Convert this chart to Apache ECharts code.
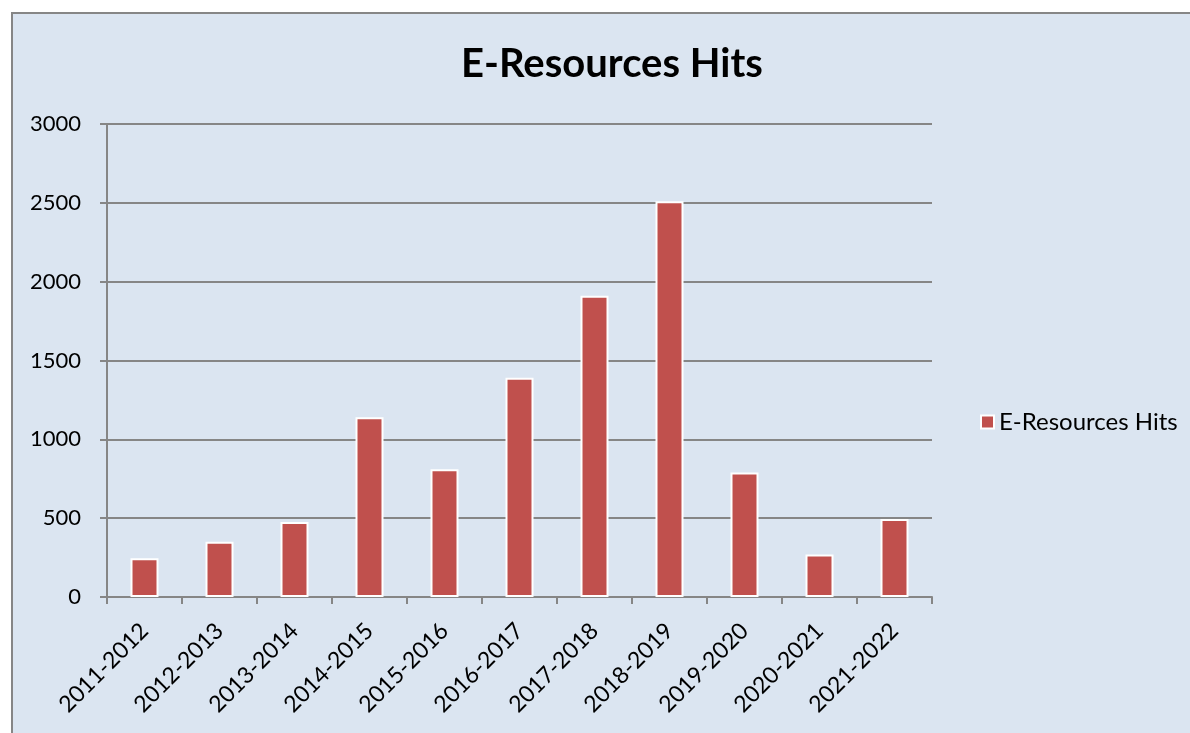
<!DOCTYPE html>
<html>
<head>
<meta charset="utf-8">
<script src="https://cdn.jsdelivr.net/npm/echarts@6/dist/echarts.min.js"></script>
<style>
  html, body { margin: 0; padding: 0; background: #ffffff; overflow: hidden; }
  #frame {
    position: absolute; left: 11px; top: 12px; width: 1200px; height: 740px;
    background: #dbe5f1; border: 2px solid #868686; box-sizing: border-box;
  }
  #chart { position: absolute; left: 0; top: 0; width: 1190px; height: 733px; }
</style>
</head>
<body>
<div id="frame"></div>
<div id="chart"></div>
<script>
// Academic years on the category axis
const years = ['2011-2012', '2012-2013', '2013-2014', '2014-2015', '2015-2016', '2016-2017',
               '2017-2018', '2018-2019', '2019-2020', '2020-2021', '2021-2022'];
// Number of e-resource hits per year
const hits = [245, 350, 475, 1140, 810, 1390, 1910, 2510, 790, 270, 495];
const seriesName = 'E-Resources Hits';
const chartTitle = 'E-Resources Hits';

const FONT = 'Lato';
const chart = echarts.init(document.getElementById('chart'), null, { renderer: 'canvas' });
chart.setOption({
  backgroundColor: 'transparent',
  animation: false,
  title: {
    text: chartTitle,
    left: 607,
    textAlign: 'center',
    top: 39,
    textStyle: { fontFamily: FONT, fontWeight: 'bold', fontSize: 40, color: '#000' }
  },
  legend: {
    data: [seriesName],
    left: 975,
    top: 405,
    icon: 'rect',
    itemWidth: 13,
    itemHeight: 13,
    itemGap: 8,
    textStyle: { fontFamily: FONT, fontSize: 24, color: '#000' }
  },
  grid: { left: 107, top: 124, width: 825, height: 473, containLabel: false },
  xAxis: {
    type: 'category',
    data: years,
    boundaryGap: true,
    axisLine: { lineStyle: { color: '#868686', width: 2 } },
    axisTick: { show: true, length: 7, alignWithLabel: false, lineStyle: { color: '#868686', width: 2 } },
    axisLabel: {
      rotate: 45,
      margin: 30,
      interval: 0,
      fontFamily: FONT,
      fontSize: 23,
      color: '#000'
    }
  },
  yAxis: {
    type: 'value',
    min: 0,
    max: 3000,
    interval: 500,
    axisLine: { show: true, lineStyle: { color: '#868686', width: 2 } },
    axisTick: { show: true, length: 7, lineStyle: { color: '#868686', width: 2 } },
    splitLine: { lineStyle: { color: '#868686', width: 2 } },
    axisLabel: {
      margin: 26,
      fontFamily: FONT,
      fontSize: 22,
      color: '#000',
      formatter: (v) => String(v)
    }
  },
  series: [{
    name: seriesName,
    type: 'bar',
    data: hits,
    barWidth: 28,
    itemStyle: { color: '#c0504d', borderColor: '#ffffff', borderWidth: 2 }
  }]
});
</script>
</body>
</html>
